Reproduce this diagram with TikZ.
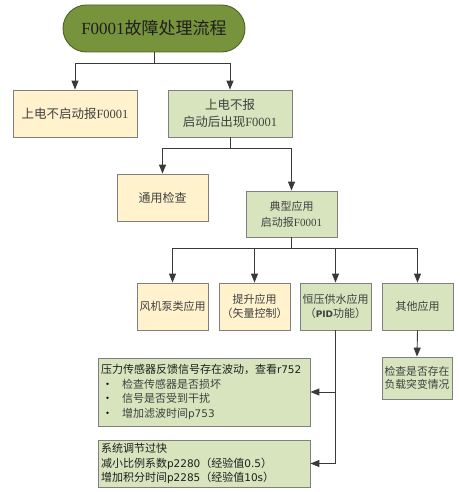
\documentclass[tikz,border=0pt]{standalone}
\usepackage{fontspec}
\setmainfont{Noto Sans CJK SC}
\newfontfamily\serifl{Liberation Serif}
\newfontfamily\verd{DejaVu Sans}
\usetikzlibrary{arrows.meta}
\definecolor{titlefill}{HTML}{77933C}
\definecolor{titleline}{HTML}{4F6228}
\definecolor{yfill}{HTML}{FFF2CC}
\definecolor{gfill}{HTML}{D7E4BD}
\definecolor{boxline}{HTML}{7F7F7F}
\definecolor{linecol}{HTML}{3A3A3A}
\definecolor{txt}{HTML}{404040}
\definecolor{txtdark}{HTML}{1E1E1E}
\newcommand{\bul}{\hspace*{1pt}\makebox[20pt][l]{\textcolor{black}{•}}}
\begin{document}
\begin{tikzpicture}[x=1pt,y=-1pt,
  box/.style={draw=boxline, line width=0.8pt, inner sep=2pt, text=txt, align=center},
  ybox/.style={box, fill=yfill},
  gbox/.style={box, fill=gfill},
  big/.style={font=\fontsize{12.5}{17}\selectfont},
  mid/.style={font=\fontsize{11}{13.5}\selectfont},
  conn/.style={draw=linecol, line width=0.9pt},
  arr/.style={conn, -{Triangle[length=9pt,width=7pt]}}
]
\useasboundingbox (0,0) rectangle (459,492);

\node[draw=titleline, line width=0.9pt, fill=titlefill, rounded corners=23.5pt,
      minimum width=182pt, minimum height=47pt, text=txtdark,
      font=\fontsize{17}{20}\selectfont] (title) at (154,28.5) {{\serifl F0001}故障处理流程};

\node[ybox, big, minimum width=124pt, minimum height=47pt] (A) at (75,113.5) {上电不启动报{\serifl F0001}};
\node[gbox, big, minimum width=124pt, minimum height=47pt] (B) at (230,113.5) {上电不报\\启动后出现{\serifl F0001}};

\node[ybox, font=\fontsize{12}{16}\selectfont, minimum width=91pt, minimum height=47pt] (C) at (162.5,197.5) {通用检查};
\node[gbox, font=\fontsize{11}{16}\selectfont, minimum width=91pt, minimum height=46pt] (D) at (291.5,214) {典型应用\\启动报{\serifl F0001}};

\node[ybox, mid, minimum width=71pt, minimum height=47pt] (E1) at (172.5,306.5) {风机泵类应用};
\node[ybox, mid, minimum width=71pt, minimum height=47pt] (E2) at (254.5,306.5) {提升应用\\（矢量控制）};
\node[gbox, mid, minimum width=71pt, minimum height=47pt] (E3) at (335.5,306.5) {恒压供水应用\\（{\verd\bfseries\fontsize{9}{13}\selectfont PID}功能）};
\node[gbox, mid, minimum width=71pt, minimum height=47pt] (E4) at (417.5,306.5) {其他应用};

\node[gbox, font=\fontsize{10.8}{13}\selectfont, minimum width=70pt, minimum height=42pt, inner xsep=1pt] (F) at (417,378) {检查是否存在\\负载突变情况};

\node[gbox, font=\fontsize{11}{14.5}\selectfont, text width=206pt, inner xsep=3pt, align=left,
      minimum height=68pt] (G) at (204,392) {%
  {\color{txtdark}压力传感器反馈信号存在波动，查看{\verd\fontsize{10.5}{14.5}\selectfont r752}}\\
  \bul 检查传感器是否损坏\\
  \bul 信号是否受到干扰\\
  \bul 增加滤波时间{\verd\fontsize{10.5}{14.5}\selectfont p753}};

\node[gbox, font=\fontsize{11}{14.5}\selectfont, text width=206pt, inner xsep=3pt, align=left,
      minimum height=47pt, text=txtdark] (H) at (204,463.5) {%
  系统调节过快\\
  减小比例系数{\verd\fontsize{10.5}{14.5}\selectfont p2280}（经验值{\verd\fontsize{10.5}{14.5}\selectfont 0.5}）\\
  增加积分时间{\verd\fontsize{10.5}{14.5}\selectfont p2285}（经验值{\verd\fontsize{10.5}{14.5}\selectfont 10s}）};

% connectors
\coordinate (j1) at (154,63);
\coordinate (j2) at (230,148);
\coordinate (j3) at (291.5,248);

\draw[conn] (title.south) -- (j1);
\draw[arr] (j1) -| (A.north);
\draw[arr] (j1) -| (B.north);

\draw[conn] (B.south) -- (j2);
\draw[arr] (j2) -| (C.north);
\draw[arr] (j2) -| (D.north);

\draw[conn] (D.south) -- (j3);
\draw[arr] (j3) -| (E1.north);
\draw[arr] (j3) -| (E2.north);
\draw[arr] (j3) -| (E3.north);
\draw[arr] (j3) -| (E4.north);

\draw[arr] (E3.south) |- (G.east);
\draw[arr] (E3.south) |- (H.east);
\draw[arr] (E4.south) -- (F.north);
\end{tikzpicture}
\end{document}
